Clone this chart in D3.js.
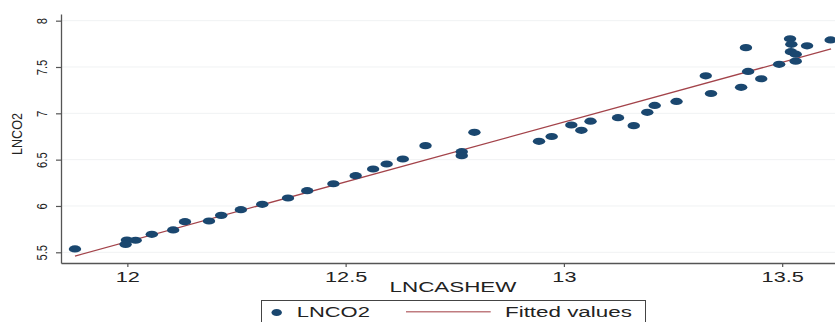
<!DOCTYPE html>
<html>
<head>
<meta charset="utf-8">
<script src="https://cdn.jsdelivr.net/npm/d3@7"></script>
<style>
  html, body { margin: 0; padding: 0; background: #fff; }
  svg { display: block; font-family: "Liberation Sans", Arial, sans-serif; }
</style>
</head>
<body>
<svg id="chart" width="835" height="322"></svg>
<script>
// Log cashew output vs log CO2 emissions, with the linear fit
const lnCashew = [11.880, 11.999, 11.996, 12.019, 12.056, 12.105, 12.132, 12.187, 12.215, 12.260,
                  12.309, 12.368, 12.412, 12.472, 12.523, 12.563, 12.594, 12.631, 12.683, 12.766,
                  12.766, 12.795, 12.943, 12.972, 13.017, 13.040, 13.061, 13.124, 13.160, 13.191,
                  13.208, 13.258, 13.325, 13.337, 13.406, 13.417, 13.422, 13.452, 13.493, 13.518,
                  13.521, 13.520, 13.531, 13.531, 13.557, 13.611];
const lnCO2    = [5.536, 5.633, 5.586, 5.630, 5.694, 5.741, 5.830, 5.838, 5.899, 5.960,
                  6.018, 6.086, 6.165, 6.240, 6.327, 6.399, 6.453, 6.507, 6.651, 6.586,
                  6.543, 6.795, 6.698, 6.750, 6.874, 6.817, 6.915, 6.953, 6.867, 7.011,
                  7.085, 7.128, 7.405, 7.214, 7.281, 7.709, 7.452, 7.373, 7.529, 7.805,
                  7.745, 7.665, 7.638, 7.563, 7.729, 7.792];
const fittedX = [11.880, 13.612];
const fittedY = [5.460, 7.695];
const xTicks = [12, 12.5, 13, 13.5];
const yTicks = [5.5, 6, 6.5, 7, 7.5, 8];
const xTitle = "LNCASHEW";
const yTitle = "LNCO2";
const legendLabels = ["LNCO2", "Fitted values"];

const markerColor = "#1a476f";
const lineColor = "#a3434a";
const axisColor = "#555";

const svg = d3.select("#chart");
const plot = { left: 61, right: 835, top: 14, bottom: 263 };

const x = d3.scaleLinear().domain([11.848, 13.621]).range([plot.left, plot.right]);
const y = d3.scaleLinear().domain([5.3845, 8.072]).range([plot.bottom, plot.top]);
const fmt = d3.format("~g");

// faint horizontal grid
svg.append("g").selectAll("line").data(yTicks).join("line")
  .attr("x1", plot.left + 1).attr("x2", plot.right)
  .attr("y1", d => y(d)).attr("y2", d => y(d))
  .attr("stroke", "#f0f2f3").attr("stroke-width", 1);

// x axis
const xAxis = svg.append("g")
  .attr("transform", `translate(0,${plot.bottom})`)
  .call(d3.axisBottom(x).tickValues(xTicks).tickFormat(fmt).tickSize(4).tickSizeOuter(0).tickPadding(5));
xAxis.select(".domain").attr("stroke", axisColor).attr("stroke-width", 1.3);
xAxis.selectAll(".tick line").attr("stroke", axisColor).attr("stroke-width", 1.2);
xAxis.selectAll(".tick text")
  .attr("fill", "#222").attr("font-size", 14)
  .attr("y", 0).attr("dy", null)
  .attr("transform", "translate(0,18.5) scale(1.55,1)");

// y axis
const yAxis = svg.append("g")
  .attr("transform", `translate(${plot.left},0)`)
  .call(d3.axisLeft(y).tickValues(yTicks).tickFormat(fmt).tickSize(5).tickSizeOuter(0));
yAxis.select(".domain").attr("stroke", axisColor).attr("stroke-width", 1.3);
yAxis.selectAll(".tick line").attr("stroke", axisColor).attr("stroke-width", 1.2);
yAxis.selectAll(".tick text")
  .attr("fill", "#222").attr("font-size", 14)
  .attr("x", 0).attr("y", 0).attr("dy", null)
  .attr("text-anchor", "middle")
  .attr("transform", "translate(-14.5,0) rotate(-90) scale(0.8,1)");

// axis titles
svg.append("text")
  .attr("text-anchor", "middle").attr("font-size", 14).attr("fill", "#222")
  .attr("transform", `translate(${(plot.left + plot.right) / 2 + 5},292.3) scale(1.6,1)`)
  .text(xTitle);
svg.append("text")
  .attr("text-anchor", "middle").attr("font-size", 14).attr("fill", "#222")
  .attr("transform", `translate(21.7,134) rotate(-90) scale(0.9,1)`)
  .text(yTitle);

// fitted line
svg.append("path")
  .datum(fittedX.map((v, i) => [v, fittedY[i]]))
  .attr("d", d3.line().x(d => x(d[0])).y(d => y(d[1])))
  .attr("fill", "none").attr("stroke", lineColor).attr("stroke-width", 1.3);

// scatter points
svg.append("g").selectAll("ellipse").data(lnCashew).join("ellipse")
  .attr("cx", d => x(d))
  .attr("cy", (d, i) => y(lnCO2[i]))
  .attr("rx", 6.2).attr("ry", 3.6)
  .attr("fill", markerColor);

// legend
const lg = svg.append("g");
lg.append("rect")
  .attr("x", 261.5).attr("y", 300.5).attr("width", 384).attr("height", 40)
  .attr("fill", "#fff").attr("stroke", "#444").attr("stroke-width", 1);
lg.append("ellipse").attr("cx", 276.7).attr("cy", 312.5).attr("rx", 5.2).attr("ry", 3.6).attr("fill", markerColor);
lg.append("text").attr("font-size", 14).attr("fill", "#222")
  .attr("transform", "translate(296.7,317.3) scale(1.57,1)").text(legendLabels[0]);
lg.append("line").attr("x1", 406).attr("x2", 490.7).attr("y1", 311.7).attr("y2", 311.7)
  .attr("stroke", "#c07c80").attr("stroke-width", 1.6);
lg.append("text").attr("font-size", 14).attr("fill", "#222")
  .attr("transform", "translate(505,317.3) scale(1.6,1)").text(legendLabels[1]);
</script>
</body>
</html>
